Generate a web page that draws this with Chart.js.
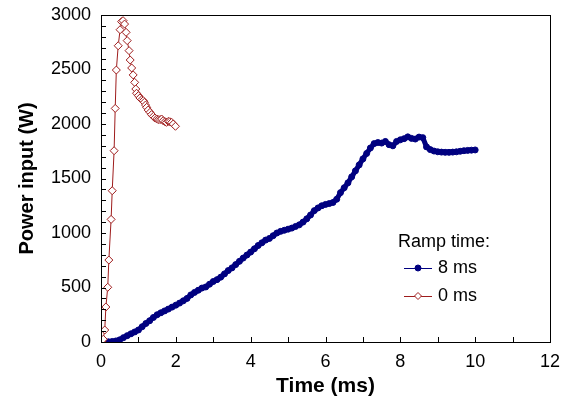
<!DOCTYPE html>
<html>
<head>
<meta charset="utf-8">
<script src="https://cdn.jsdelivr.net/npm/chart.js@4.4.0/dist/chart.umd.min.js"></script>
<style>
  html, body { margin: 0; padding: 0; background: #fff; }
</style>
</head>
<body>
<canvas id="chart" width="573" height="399"></canvas>
<script>
// ramp time 0 ms (open diamonds)
const redTime = [0.03, 0.06, 0.10, 0.13, 0.18, 0.21, 0.27, 0.30, 0.35, 0.38, 0.41, 0.46, 0.51, 0.55, 0.59, 0.63, 0.67, 0.70,
  0.75, 0.78, 0.82, 0.86, 0.90, 0.93, 0.95, 1.00, 1.04, 1.09, 1.13, 1.16, 1.19, 1.22, 1.26, 1.31, 1.35, 1.40, 1.44,
  1.49, 1.53, 1.58, 1.62, 1.66, 1.71, 1.75, 1.80, 1.84, 1.89, 1.93, 1.99];
const redPower = [0, 25, 110, 321, 502, 752, 1125, 1388, 1755, 2143, 2495, 2718, 2865, 2939, 2948, 2917, 2841, 2765,
  2673, 2587, 2514, 2450, 2382, 2321, 2282, 2260, 2239, 2223, 2214, 2199, 2174, 2153, 2128, 2107, 2086, 2070, 2055,
  2046, 2040, 2040, 2046, 2030, 2021, 2015, 2024, 2021, 2015, 2000, 1979];

// ramp time 8 ms (filled circles)
const blueTime = [0.0, 0.1, 0.2, 0.3, 0.4, 0.5, 0.6, 0.7, 0.8, 0.9,
  1.0, 1.1, 1.2, 1.3, 1.4, 1.5, 1.6, 1.7, 1.8, 1.9,
  2.0, 2.1, 2.2, 2.3, 2.4, 2.5, 2.6, 2.7, 2.8, 2.9,
  3.0, 3.1, 3.2, 3.3, 3.4, 3.5, 3.6, 3.7, 3.8, 3.9,
  4.0, 4.1, 4.2, 4.3, 4.4, 4.5, 4.6, 4.7, 4.8, 4.9,
  5.0, 5.1, 5.2, 5.3, 5.4, 5.5, 5.6, 5.7, 5.8, 5.9,
  6.0, 6.1, 6.2, 6.3, 6.4, 6.5, 6.6, 6.7, 6.8, 6.9,
  7.0, 7.1, 7.2, 7.3, 7.4, 7.5, 7.6, 7.7, 7.8, 7.9,
  8.0, 8.1, 8.2, 8.3, 8.4, 8.5, 8.6, 8.7, 8.8, 8.9,
  9.0, 9.1, 9.2, 9.3, 9.4, 9.5, 9.6, 9.7, 9.8, 9.9, 10.0];
const bluePower = [0, 0, 2, 5, 10, 20, 40, 58, 75, 92,
  110, 140, 170, 195, 225, 250, 268, 285, 302, 320,
  338, 357, 378, 400, 432, 455, 475, 495, 505, 530,
  555, 572, 595, 625, 655, 680, 710, 740, 770, 798,
  825, 855, 885, 910, 935, 950, 975, 1000, 1015, 1025,
  1035, 1045, 1060, 1075, 1100, 1130, 1165, 1205, 1230, 1250,
  1262, 1270, 1280, 1310, 1370, 1415, 1460, 1515, 1570, 1625,
  1680, 1730, 1780, 1820, 1830, 1825, 1840, 1810, 1800, 1840,
  1855, 1865, 1882, 1868, 1862, 1880, 1875, 1790, 1765, 1752,
  1745, 1742, 1740, 1740, 1742, 1745, 1750, 1755, 1758, 1760, 1762];

const seriesNames = ['8 ms', '0 ms'];
const legendTitle = 'Ramp time:';
const xTitle = 'Time (ms)';
const yTitle = 'Power input (W)';

const NAVY = '#000080';
const DARKRED = '#9e1c1c';
const FONT = '"Liberation Sans", Arial, sans-serif';

function toPoints(xs, ys) {
  return xs.map(function(x, i) {
    return { x: x, y: ys[i] };
  });
}

// box round the plot, inward tick marks and the small legend
const frameAndLegend = {
  id: 'frameAndLegend',
  afterDraw(chart) {
    const ctx = chart.ctx;
    const a = chart.chartArea;
    const xs = chart.scales.x;
    const ys = chart.scales.y;
    ctx.save();
    ctx.strokeStyle = '#000';
    ctx.lineWidth = 1;
    ctx.strokeRect(Math.round(a.left) + 0.5, Math.round(a.top) + 0.5,
      Math.round(a.right - a.left), Math.round(a.bottom - a.top));

    ctx.beginPath();
    for (let t = 0; t <= 12; t++) {
      const px = Math.round(xs.getPixelForValue(t)) + 0.5;
      ctx.moveTo(px, a.bottom);
      ctx.lineTo(px, a.bottom - 5);
    }
    for (let v = 0; v <= 3000; v += 100) {
      const py = Math.round(ys.getPixelForValue(v)) + 0.5;
      ctx.moveTo(a.left, py);
      ctx.lineTo(a.left + 5, py);
    }
    ctx.stroke();

    // legend
    ctx.font = '18px ' + FONT;
    ctx.fillStyle = '#000';
    ctx.textBaseline = 'middle';
    ctx.textAlign = 'left';
    ctx.fillText(legendTitle, 398, 242);

    const rows = [
      { y: 268, ds: chart.data.datasets[1] },
      { y: 296, ds: chart.data.datasets[0] }
    ];
    rows.forEach(function(row) {
      ctx.strokeStyle = row.ds.pointBorderColor;
      ctx.lineWidth = 1;
      ctx.beginPath();
      ctx.moveTo(404, row.y + 0.5);
      ctx.lineTo(432, row.y + 0.5);
      ctx.stroke();
      ctx.beginPath();
      if (row.ds.pointStyle === 'rectRot') {
        const r = 3.5;
        ctx.moveTo(418, row.y - r);
        ctx.lineTo(418 + r, row.y);
        ctx.lineTo(418, row.y + r);
        ctx.lineTo(418 - r, row.y);
        ctx.closePath();
      } else {
        ctx.arc(418, row.y, 3, 0, Math.PI * 2);
      }
      ctx.fillStyle = row.ds.pointBackgroundColor;
      ctx.fill();
      ctx.stroke();
      ctx.fillStyle = '#000';
      ctx.fillText(row.ds.label, 438, row.y);
    });
    ctx.restore();
  }
};

const data = {
  datasets: [
    {
      label: seriesNames[1],
      data: toPoints(redTime, redPower),
      borderColor: DARKRED,
      borderWidth: 1,
      pointStyle: 'rectRot',
      pointRadius: 4,
      pointBorderWidth: 1,
      pointBackgroundColor: '#ffffff',
      pointBorderColor: DARKRED,
      order: 1
    },
    {
      label: seriesNames[0],
      data: toPoints(blueTime, bluePower),
      borderColor: NAVY,
      borderWidth: 5,
      pointStyle: 'circle',
      pointRadius: 3,
      pointBorderWidth: 1,
      pointBackgroundColor: NAVY,
      pointBorderColor: NAVY,
      order: 2
    }
  ]
};

new Chart(document.getElementById('chart'), {
  type: 'line',
  data: data,
  plugins: [frameAndLegend],
  options: {
    responsive: false,
    animation: false,
    layout: { padding: { top: 15, right: 23, left: 0, bottom: 0 } },
    plugins: {
      legend: { display: false },
      tooltip: { enabled: false }
    },
    scales: {
      x: {
        type: 'linear',
        min: 0,
        max: 12,
        grid: { display: false, drawTicks: false },
        border: { display: false },
        ticks: { stepSize: 2, padding: 9, color: '#000', font: { family: FONT, size: 18 } },
        title: {
          display: true,
          text: xTitle,
          color: '#000',
          padding: { top: 0, bottom: 0 },
          font: { family: FONT, size: 21, weight: 'bold' }
        },
        afterFit: function(scale) {
          scale.height = 57;
          scale.paddingLeft = 0;
          scale.paddingRight = 0;
        }
      },
      y: {
        type: 'linear',
        min: 0,
        max: 3000,
        grid: { display: false, drawTicks: false },
        border: { display: false },
        ticks: {
          stepSize: 500,
          padding: 10,
          color: '#000',
          font: { family: FONT, size: 18 },
          callback: function(value) { return String(value); }
        },
        title: {
          display: true,
          text: yTitle,
          color: '#000',
          padding: { top: 15, bottom: 0 },
          font: { family: FONT, size: 20, weight: 'bold' }
        },
        afterFit: function(scale) {
          scale.width = 101;
          scale.paddingTop = 0;
          scale.paddingBottom = 0;
        }
      }
    }
  }
});
</script>
</body>
</html>
